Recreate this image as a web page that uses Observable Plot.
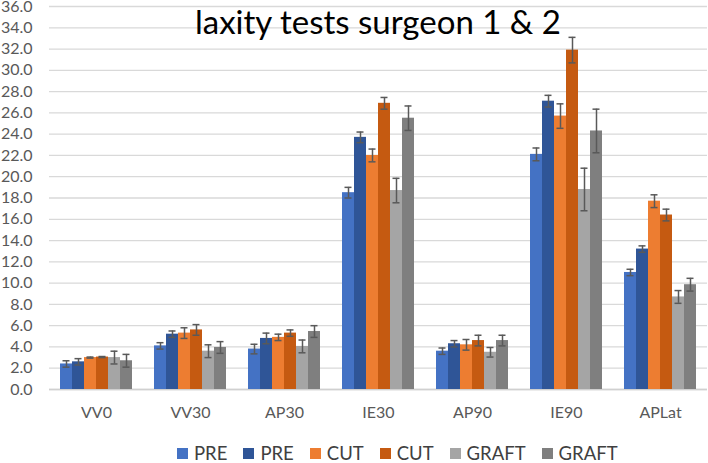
<!DOCTYPE html>
<html>
<head>
<meta charset="utf-8">
<script src="https://cdn.jsdelivr.net/npm/d3@7"></script>
<script src="https://cdn.jsdelivr.net/npm/@observablehq/plot@0.6"></script>
<style>
  body { margin: 0; background: #fff; }
  #chart { position: relative; width: 708px; height: 463px; font-family: Lato, sans-serif; }
  #title { position: absolute; left: 195px; top: 5px; font-size: 33px; line-height: 1; color: #000; white-space: nowrap; }
  #legend { position: absolute; left: 177px; top: 444px; display: flex; align-items: center; font-size: 18.5px; color: #404040; line-height: 1; }
  #legend .item { display: flex; align-items: center; margin-right: 16px; }
  #legend .sw { width: 11px; height: 11px; margin-right: 6px; }
</style>
</head>
<body>
<div id="chart">
  <div id="title">laxity tests surgeon 1 &amp; 2</div>
  <div id="legend"></div>
</div>
<script>
const categories = ["VV0", "VV30", "AP30", "IE30", "AP90", "IE90", "APLat"];
const series = ["PRE 1", "PRE 2", "CUT 1", "CUT 2", "GRAFT 1", "GRAFT 2"];
const seriesLabels = ["PRE", "PRE", "CUT", "CUT", "GRAFT", "GRAFT"];
const colors = ["#4472C4", "#2F5597", "#ED7D31", "#C55A11", "#A5A5A5", "#7F7F7F"];

const pre1 = [2.4, 4.1, 3.8, 18.5, 3.6, 22.1, 11.0];
const pre2 = [2.6, 5.2, 4.8, 23.7, 4.3, 27.1, 13.2];
const cut1 = [3.0, 5.3, 4.9, 22.0, 4.2, 25.7, 17.7];
const cut2 = [3.05, 5.6, 5.3, 26.9, 4.6, 31.9, 16.4];
const graft1 = [3.0, 3.6, 4.05, 18.7, 3.5, 18.8, 8.7];
const graft2 = [2.7, 3.95, 5.45, 25.5, 4.6, 24.3, 9.85];

const pre1Err = [0.3, 0.3, 0.45, 0.5, 0.3, 0.6, 0.3];
const pre2Err = [0.3, 0.3, 0.5, 0.5, 0.3, 0.55, 0.3];
const cut1Err = [0.05, 0.5, 0.3, 0.6, 0.5, 1.15, 0.6];
const cut2Err = [0.05, 0.5, 0.3, 0.55, 0.5, 1.2, 0.55];
const graft1Err = [0.6, 0.6, 0.6, 1.15, 0.45, 2.0, 0.6];
const graft2Err = [0.6, 0.55, 0.55, 1.15, 0.5, 2.05, 0.6];

const yTicks = d3.range(0, 37, 2);

const values = [pre1, pre2, cut1, cut2, graft1, graft2];
const errors = [pre1Err, pre2Err, cut1Err, cut2Err, graft1Err, graft2Err];

const rows = categories.flatMap((category, i) =>
  series.map((s, j) => ({ category, series: s, value: values[j][i], err: errors[j][i] }))
);

const plot = Plot.plot({
  width: 708,
  height: 430,
  marginTop: 6,
  marginBottom: 41,
  marginLeft: 49,
  marginRight: 1,
  style: { fontFamily: "Lato, sans-serif", fontSize: "16px", color: "#595959", background: "transparent" },
  y: { domain: [0, 36] },
  x: { domain: series, axis: null, paddingInner: 0, paddingOuter: 0.66 },
  fx: { domain: categories, padding: 0 },
  color: { domain: series, range: colors },
  marks: [
    Plot.gridY(yTicks, { stroke: "#d9d9d9", strokeOpacity: 1, strokeWidth: 1.3 }),
    Plot.ruleY([0], { stroke: "#d0d0d0", strokeWidth: 1.5 }),
    Plot.axisY(yTicks, { tickSize: 0, tickPadding: 17, tickFormat: (d) => d.toFixed(1), label: null }),
    Plot.axisFx({ anchor: "bottom", tickSize: 0, tickPadding: 17, label: null }),
    Plot.barY(rows, { fx: "category", x: "series", y: "value", fill: "series" }),
    Plot.ruleX(rows, {
      fx: "category",
      x: "series",
      y1: (d) => d.value - d.err,
      y2: (d) => d.value + d.err,
      stroke: "#595959",
      strokeWidth: 1.5
    }),
    Plot.tickY(rows, { fx: "category", x: "series", y: (d) => d.value + d.err, stroke: "#595959", strokeWidth: 1.5, insetLeft: 2.5, insetRight: 2.5 }),
    Plot.tickY(rows, { fx: "category", x: "series", y: (d) => d.value - d.err, stroke: "#595959", strokeWidth: 1.5, insetLeft: 2.5, insetRight: 2.5 })
  ]
});

const chart = document.querySelector("#chart");
chart.insertBefore(plot, chart.firstChild);

const legend = d3.select("#legend");
series.forEach((s, j) => {
  const item = legend.append("div").attr("class", "item");
  item.append("div").attr("class", "sw").style("background", colors[j]);
  item.append("span").text(seriesLabels[j]);
});
</script>
</body>
</html>
